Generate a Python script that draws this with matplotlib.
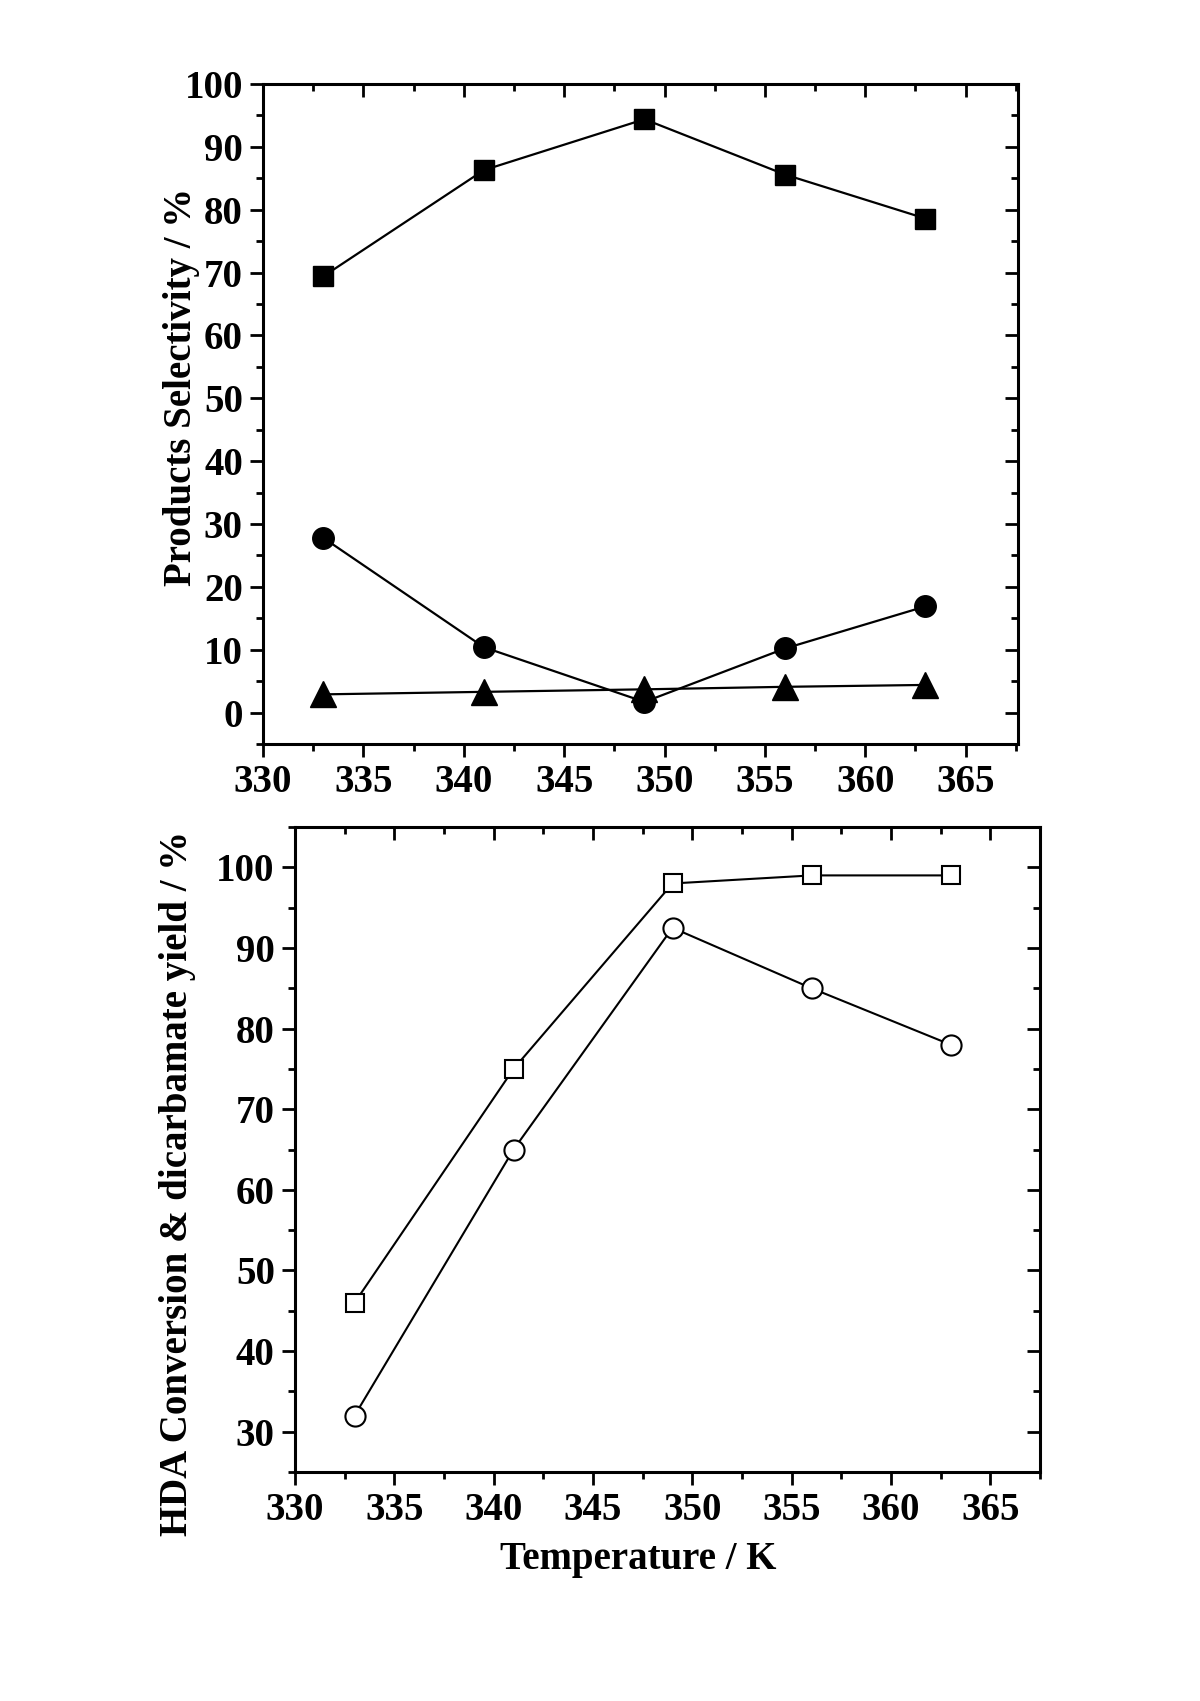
import matplotlib
matplotlib.use("Agg")
import matplotlib.pyplot as plt
from matplotlib.ticker import MultipleLocator

plt.rcParams["font.family"] = ["Liberation Serif", "DejaVu Serif"]
plt.rcParams["font.weight"] = "bold"
plt.rcParams["font.size"] = 28

# top panel: product selectivity
temp = [333, 341, 349, 356, 363]
sel_square = [69.4, 86.3, 94.4, 85.6, 78.6]
sel_circle = [27.8, 10.4, 1.7, 10.2, 16.9]
sel_triangle = [2.9, 3.3, 3.7, 4.1, 4.4]

# bottom panel: conversion & yield
conv = [46.0, 75.0, 98.0, 99.0, 99.0]
yld = [32.0, 65.0, 92.5, 85.0, 78.0]


def style_axes(ax):
    for s in ax.spines.values():
        s.set_linewidth(2.2)
    ax.xaxis.set_major_locator(MultipleLocator(5))
    ax.xaxis.set_minor_locator(MultipleLocator(2.5))
    ax.yaxis.set_major_locator(MultipleLocator(10))
    ax.yaxis.set_minor_locator(MultipleLocator(5))
    ax.tick_params(which="both", width=2.0, direction="out", top=True, right=True)
    ax.tick_params(which="major", length=9.5, pad=5)
    ax.tick_params(which="minor", length=5)


fig = plt.figure(figsize=(12, 17.01), dpi=100)

ax1 = fig.add_axes([0.2192, 0.5626, 0.629, 0.388])
style_axes(ax1)
ax1.plot(temp, sel_square, "k-", lw=1.6, marker="s", ms=15, mfc="k", mec="k")
ax1.plot(temp, sel_circle, "k-", lw=1.6, marker="o", ms=15.5, mfc="k", mec="k")
ax1.plot(temp, sel_triangle, "k-", lw=1.6, marker="^", ms=19, mfc="k", mec="k")
ax1.set_xlim(330, 367.6)
ax1.set_ylim(-5, 100)
ax1.set_ylabel("Products Selectivity / %", fontweight="bold", va="center")
ax1.yaxis.set_label_coords(-0.108, 0.541)

ax2 = fig.add_axes([0.2458, 0.1346, 0.621, 0.3792])
style_axes(ax2)
ax2.plot(temp, conv, "k-", lw=1.5, marker="s", ms=13.5, mfc="white", mec="k", mew=1.5)
ax2.plot(temp, yld, "k-", lw=1.5, marker="o", ms=14.5, mfc="white", mec="k", mew=1.5)
ax2.set_xlim(330, 367.5)
ax2.set_ylim(25, 105)
ax2.set_ylabel("HDA Conversion & dicarbamate yield / %", fontweight="bold", va="center")
ax2.yaxis.set_label_coords(-0.158, 0.448)
ax2.set_xlabel("Temperature / K", fontweight="bold", va="center")
ax2.xaxis.set_label_coords(0.46, -0.135)

# inward ticks on top and right spines
for ax in (ax1, ax2):
    for t in ax.xaxis.get_major_ticks() + ax.xaxis.get_minor_ticks():
        t.tick2line.set_marker(3)
    for t in ax.yaxis.get_major_ticks() + ax.yaxis.get_minor_ticks():
        t.tick2line.set_marker(0)

fig.savefig("out.png", dpi=100)
